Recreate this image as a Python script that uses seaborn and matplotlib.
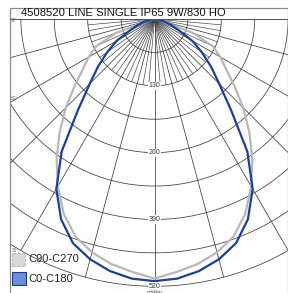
import numpy as np
import pandas as pd
import matplotlib
matplotlib.use("Agg")
import matplotlib.pyplot as plt
import seaborn as sns
from matplotlib.patches import Rectangle
from matplotlib.lines import Line2D

sns.set_style("white")
plt.rcParams['font.family'] = ['Liberation Sans', 'DejaVu Sans']

# luminous intensity in cd/klm, gamma 0..90 deg (mirrored to both halves)
angles = [0, 5, 10, 15, 20, 25, 30, 35, 40, 45, 50, 55, 60, 65, 70, 75, 80, 85, 90]
c0_c180 = [510, 507, 498, 484, 464, 430, 382, 315, 232, 178, 143, 112, 85, 52, 35, 20, 6, 0, 0]
c90_c270 = [505, 494, 484, 470, 450, 418, 376, 332, 287, 244, 203, 170, 148, 125, 80, 12, 3, 0, 0]
rings = [65, 130, 195, 260, 325, 390, 455, 520]
ring_labels = [130, 260, 390, 520]
angle_labels = ["90°", "60°", "30°"]
title = "4508520 LINE SINGLE IP65 9W/830 HO"

W, H = 288, 293
CX, CY = 154.5, 19
S = 0.514  # px per cd

fig = plt.figure(figsize=(W / 100, H / 100), dpi=100)
ax = fig.add_axes([10 / W, 0, (W - 10) / W, (H - CY) / H])
ax.set_xlim((10 - CX) / S, (W - CX) / S)
ax.set_ylim(-(H - CY) / S, 0)
ax.axis('off')

grid_col = '#3c3c3c'
t = np.radians(np.linspace(-90, 90, 361))
for r in rings:
    ax.plot(r * np.sin(t), -r * np.cos(t), color=grid_col, lw=0.55, zorder=1)

for a in range(-90, 91, 5):
    length = 520 if a % 15 == 0 else 130
    ar = np.radians(a)
    ax.plot([0, length * np.sin(ar)], [0, -length * np.cos(ar)], color=grid_col,
            lw=0.55 if a % 15 == 0 else 0.45, zorder=1)

for v in ring_labels:
    ax.text(0, -v, str(v), ha='center', va='center', fontsize=5, color='#333333',
            bbox=dict(fc='white', ec='none', pad=0.4), zorder=3)

# curves
rows = []
for name, vals in [("C90-C270", c90_c270), ("C0-C180", c0_c180)]:
    g = angles[::-1][:-1]
    full_a = [-x for x in g] + angles
    full_v = vals[::-1][:-1] + vals
    for a, v in zip(full_a, full_v):
        ar = np.radians(a)
        rows.append({"plane": name, "x": v * np.sin(ar), "y": -v * np.cos(ar)})
df = pd.DataFrame(rows)
sns.lineplot(data=df, x="x", y="y", hue="plane", hue_order=["C90-C270", "C0-C180"],
             palette={"C90-C270": "#b8b8b8", "C0-C180": "#1b3f9a"}, sort=False,
             estimator=None, lw=1.6, legend=False, ax=ax, zorder=2)
ax.set_xlabel("")
ax.set_ylabel("")

# frame and title
fig.add_artist(Rectangle((10 / W, -0.01), (W - 10.5) / W, 1 - 8 / H + 0.01, fill=False,
                         ec='#8c8c8c', lw=0.9, transform=fig.transFigure))
fig.add_artist(Line2D([10 / W, 1], [1 - 19 / H, 1 - 19 / H], color='#555555', lw=0.7,
                      transform=fig.transFigure))
fig.text(21 / W, 1 - 13.5 / H, title, fontsize=8.1, ha='left', va='center', color='#111111')

for lab, (x, y) in zip(angle_labels, [(11, 20), (11, 99), (12, 251)]):
    fig.text(x / W, 1 - y / H, lab, fontsize=3.4, ha='left', va='center', color='#777777')

fig.text(CX / W, 1 - 292 / H, "cd/klm", fontsize=4, ha='center', va='center', color='#444444')

# legend
fig.add_artist(Rectangle((12 / W, 1 - 266 / H), 13 / W, 13 / H, fc='#d9d9d9', ec='#b0b0b0',
                         ls='--', lw=0.6, transform=fig.transFigure))
fig.add_artist(Rectangle((12 / W, 1 - 285 / H), 14 / W, 13 / H, fc='#6a8fd6', ec='#1f3a8a',
                         lw=0.8, transform=fig.transFigure))
fig.text(28 / W, 1 - 259.5 / H, "C90-C270", fontsize=8, ha='left', va='center', color='#222222')
fig.text(28 / W, 1 - 279 / H, "C0-C180", fontsize=8, ha='left', va='center', color='#222222')

fig.savefig("out.png", dpi=100)
